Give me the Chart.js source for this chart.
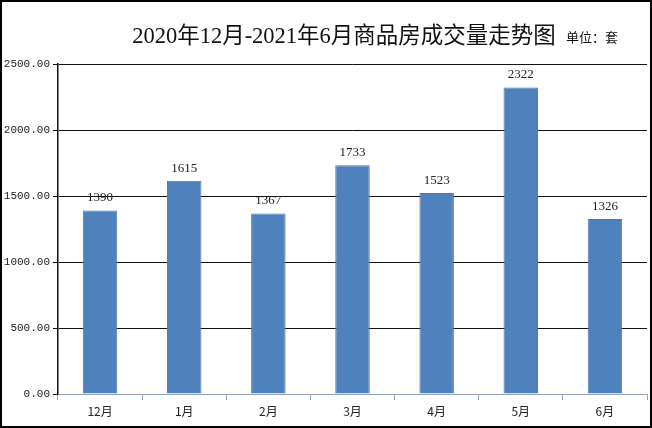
<!DOCTYPE html>
<html><head><meta charset="utf-8">
<script src="https://cdn.jsdelivr.net/npm/chart.js@4/dist/chart.umd.min.js"></script>
<style>html,body{margin:0;padding:0;background:#fff}canvas{display:block}</style>
</head><body>
<canvas id="c" width="652" height="428"></canvas>
<script>
const titleText = '2020年12月-2021年6月商品房成交量走势图';
const unitText = '单位：套';
const categories = ['12月','1月','2月','3月','4月','5月','6月'];
const volumes = [1390, 1615, 1367, 1733, 1523, 2322, 1326];
const yTicks = [0, 500, 1000, 1500, 2000, 2500];

const deco = {
  id: 'deco',
  beforeDraw(chart) {
    const ctx = chart.ctx;
    ctx.save();
    ctx.fillStyle = '#fff';
    ctx.fillRect(0, 0, chart.width, chart.height);
    ctx.restore();
  },
  afterDatasetsDraw(chart) {
    const ctx = chart.ctx;
    const meta = chart.getDatasetMeta(0);
    ctx.save();
    ctx.fillStyle = '#222';
    ctx.font = '13px "Liberation Serif", serif';
    ctx.textAlign = 'center';
    ctx.textBaseline = 'bottom';
    meta.data.forEach((bar, i) => {
      ctx.fillText(String(volumes[i]), bar.x, bar.y - 6);
    });
    ctx.restore();
  },
  afterDraw(chart) {
    const ctx = chart.ctx;
    ctx.save();
    ctx.fillStyle = '#111';
    ctx.textBaseline = 'alphabetic';
    ctx.textAlign = 'center';
    ctx.font = '22.5px "Liberation Serif", "Noto Sans CJK SC", serif';
    ctx.fillText(titleText, 344, 43);
    ctx.textAlign = 'left';
    ctx.font = '13px "Noto Sans CJK SC", sans-serif';
    ctx.fillText(unitText, 566, 42);
    ctx.strokeStyle = '#000';
    ctx.lineWidth = 2;
    ctx.strokeRect(1, 1, chart.width - 2, chart.height - 2);
    ctx.restore();
  }
};

new Chart(document.getElementById('c'), {
  type: 'bar',
  data: {
    labels: categories,
    datasets: [{
      data: volumes,
      backgroundColor: '#4f81bd',
      borderColor: '#4a7ab5',
      borderWidth: 1,
      categoryPercentage: 1,
      barPercentage: 0.41
    }]
  },
  options: {
    responsive: false,
    animation: false,
    devicePixelRatio: 1,
    layout: { padding: { top: 64, right: 5, left: 0, bottom: 0 } },
    plugins: { legend: { display: false }, title: { display: false }, tooltip: { enabled: false } },
    scales: {
      x: {
        grid: { offset: true, drawOnChartArea: false, drawTicks: true, tickLength: 6, color: '#8ea6c4' },
        border: { color: '#8ea6c4', width: 1 },
        ticks: { color: '#222', font: { size: 12, family: '"Noto Sans CJK SC", sans-serif' }, padding: 4 },
        afterFit(s) { s.height = 34; }
      },
      y: {
        min: 0, max: 2500,
        afterBuildTicks(s) { s.ticks = yTicks.map(v => ({ value: v })); },
        grid: { color: '#111', lineWidth: 1, tickLength: 5, drawTicks: true },
        border: { color: '#111', width: 1.5 },
        ticks: { color: '#222', padding: 3, font: { size: 11, family: '"Liberation Mono", monospace' },
                 callback: v => Number(v).toFixed(2) },
        afterFit(s) { s.width = 58; }
      }
    }
  },
  plugins: [deco]
});
</script>
</body></html>
